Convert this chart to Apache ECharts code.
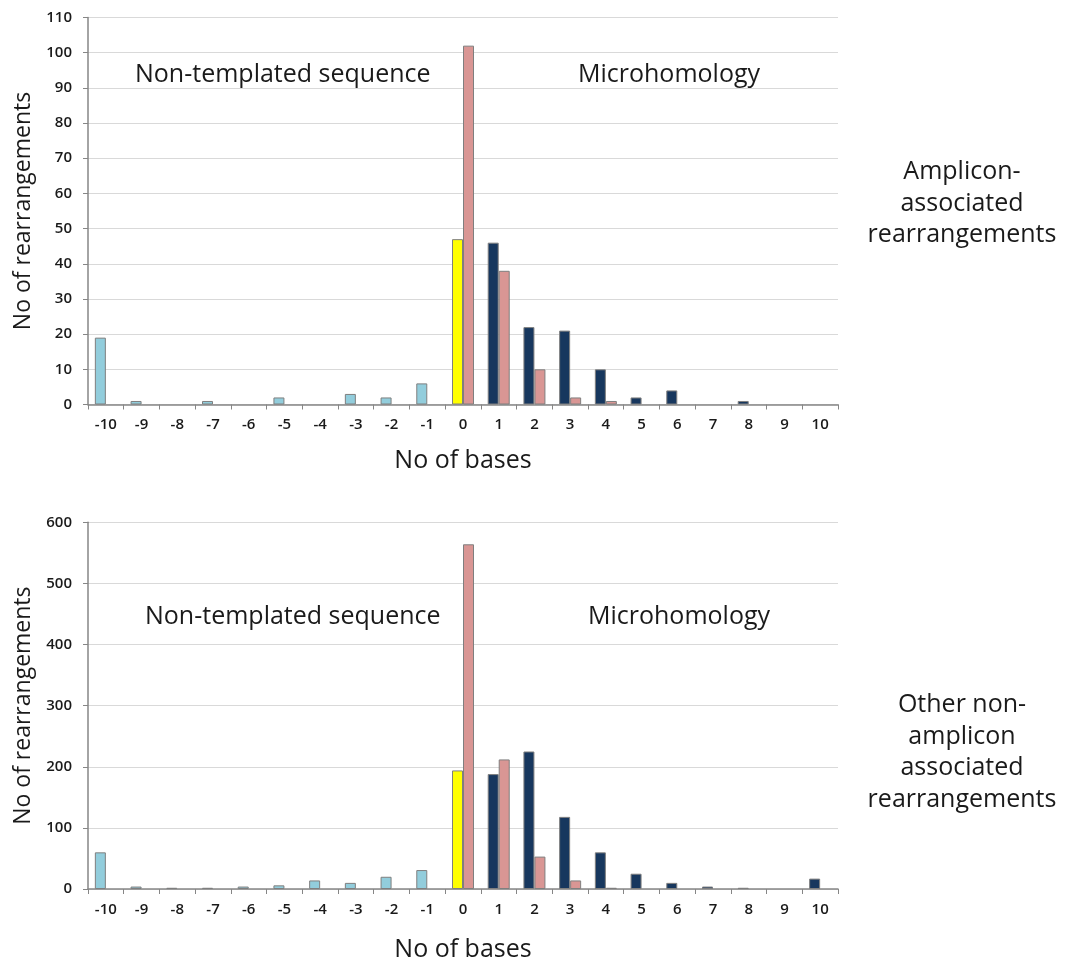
<!DOCTYPE html>
<html>
<head>
<meta charset="utf-8">
<script src="https://cdn.jsdelivr.net/npm/echarts@6/dist/echarts.min.js"></script>
<style>
  html, body { margin: 0; padding: 0; background: #fff; }
  #chart { width: 1067px; height: 963px; }
</style>
</head>
<body>
<div id="chart"></div>
<script>
// Number of bases at the junction: negative = non-templated insertion, positive = microhomology
const bases = ['-10','-9','-8','-7','-6','-5','-4','-3','-2','-1','0','1','2','3','4','5','6','7','8','9','10'];

// Amplicon-associated rearrangements
const ampPrimary   = [19, 1, 0, 1, 0, 2, 0, 3, 2, 6, 47, 46, 22, 21, 10, 2, 4, 0, 1, 0, 0];
const ampSecondary = [0, 0, 0, 0, 0, 0, 0, 0, 0, 0, 102, 38, 10, 2, 1, 0, 0, 0, 0, 0, 0];

// Other non-amplicon associated rearrangements
const otherPrimary   = [60, 4, 2, 2, 4, 6, 14, 10, 20, 31, 194, 188, 225, 118, 60, 25, 10, 4, 2, 0, 17];
const otherSecondary = [0, 0, 0, 0, 0, 0, 0, 0, 0, 0, 564, 212, 53, 14, 2, 0, 0, 0, 0, 0, 0];

const ampTicks = { max: 110, step: 10 };
const otherTicks = { max: 600, step: 100 };

const COL_INSERT = '#92cddc';
const COL_BLUNT = '#ffff00';
const COL_HOMOL = '#17375e';
const COL_SECOND = '#d99694';
const BORDER = '#7f7f7f';
const INK = '#1a1a1a';

const fontMain = '"Open Sans", "Noto Sans", sans-serif';

// Empty bins get no bar at all (no zero-height outline)
function cell(v, color) {
  if (v === 0) return '-';
  return color ? { value: v, itemStyle: { color } } : v;
}

function primaryData(values) {
  return values.map((v, i) => {
    const b = Number(bases[i]);
    const c = b < 0 ? COL_INSERT : (b === 0 ? COL_BLUNT : COL_HOMOL);
    return cell(v, c);
  });
}

function xAxis(gridIndex, gap) {
  return {
    type: 'category', gridIndex, data: bases,
    axisLine: { lineStyle: { color: '#868686', width: 1.5 } },
    axisTick: { show: true, alignWithLabel: false, length: 5, lineStyle: { color: '#868686' } },
    axisLabel: { color: INK, fontFamily: fontMain, fontSize: 15, fontWeight: 600, margin: 13 },
    name: 'No of bases', nameLocation: 'middle',
    nameTextStyle: { color: INK, fontFamily: fontMain, fontSize: 25 },
    nameGap: gap
  };
}

function yAxis(gridIndex, t) {
  return {
    type: 'value', gridIndex, min: 0, max: t.max, interval: t.step,
    axisLine: { show: true, lineStyle: { color: '#868686', width: 1.5 } },
    axisTick: { show: true, inside: false, length: 5, lineStyle: { color: '#868686' } },
    splitLine: { lineStyle: { color: '#d9d9d9', width: 1.2 } },
    axisLabel: { color: INK, fontFamily: fontMain, fontSize: 15, fontWeight: 600, margin: 16 },
    name: 'No of rearrangements', nameLocation: 'middle',
    nameTextStyle: { color: INK, fontFamily: fontMain, fontSize: 23 },
    nameGap: 52
  };
}

function barSeries(idx, data, right) {
  return {
    type: 'bar', xAxisIndex: idx, yAxisIndex: idx,
    data: right ? data.map(v => cell(v)) : primaryData(data),
    barWidth: 11, barGap: '0%',
    itemStyle: right ? { color: COL_SECOND, borderColor: BORDER, borderWidth: 1 }
                     : { borderColor: BORDER, borderWidth: 1 },
    silent: true
  };
}

function label(x, y, text) {
  return {
    type: 'text', position: [x, y],
    style: { text, fill: INK, font: '25px ' + fontMain, textAlign: 'left', textVerticalAlign: 'middle', verticalAlign: 'middle' }
  };
}

function sideNote(y, text) {
  return {
    type: 'text', position: [962, y],
    style: { text, fill: INK, font: '25px ' + fontMain, textAlign: 'center',
             textVerticalAlign: 'top', verticalAlign: 'top', lineHeight: 31.5 }
  };
}

const chart = echarts.init(document.getElementById('chart'), null, { renderer: 'canvas' });
chart.setOption({
  animation: false,
  backgroundColor: '#ffffff',
  grid: [
    { left: 88, top: 17.5, width: 750, height: 387, outerBoundsMode: 'none', containLabel: false },
    { left: 88, top: 522.3, width: 750, height: 366.7, outerBoundsMode: 'none', containLabel: false }
  ],
  xAxis: [xAxis(0, 44), xAxis(1, 48)],
  yAxis: [yAxis(0, ampTicks), yAxis(1, otherTicks)],
  series: [
    barSeries(0, ampPrimary, false),
    barSeries(0, ampSecondary, true),
    barSeries(1, otherPrimary, false),
    barSeries(1, otherSecondary, true)
  ],
  graphic: [
    label(135, 75, 'Non-templated sequence'),
    label(578, 75, 'Microhomology'),
    label(145, 617, 'Non-templated sequence'),
    label(588, 617, 'Microhomology'),
    sideNote(156.5, 'Amplicon-\nassociated\nrearrangements'),
    sideNote(689.5, 'Other non-\namplicon\nassociated\nrearrangements')
  ]
});
</script>
</body>
</html>
